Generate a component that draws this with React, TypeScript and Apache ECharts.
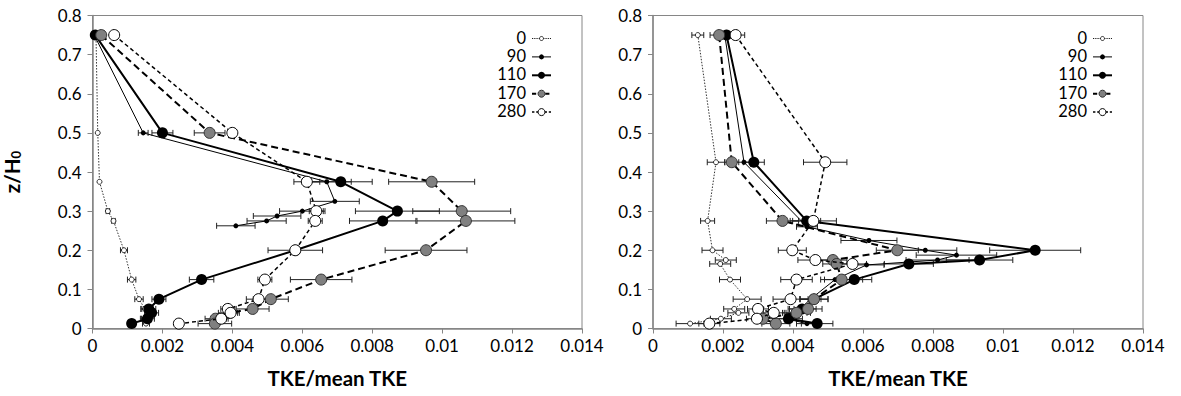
import React, { useEffect, useRef } from "react";
import * as echarts from "echarts";

const FONT = "Lato, 'Open Sans', sans-serif";

// ---------- data: left panel ----------
const LEFT_Z = [0.75, 0.5, 0.375, 0.3, 0.275, 0.2, 0.125, 0.075, 0.05, 0.04, 0.025, 0.0125];
const LEFT_0_X = [0.0001, 0.00015, 0.0002, 0.00044, 0.0006, 0.0009, 0.00112, 0.00133, 0.0015, 0.0016, 0.0015, 0.00153];
const LEFT_0_E = [0, 0, 0, 0.00005, 0.00005, 0.0001, 0.00012, 0.00012, 0.00012, 0.0001, 0.0001, 0.0001];
const LEFT_90_Z = [0.75, 0.5, 0.375, 0.325, 0.3, 0.2875, 0.275, 0.2625];
const LEFT_90_X = [0.00005, 0.00145, 0.0067, 0.00693, 0.006, 0.00528, 0.00498, 0.0041];
const LEFT_90_E = [0, 0.00014, 0.0007, 0.0007, 0.00065, 0.00068, 0.00056, 0.00055];
const LEFT_110_X = [0.00008, 0.002, 0.0071, 0.00872, 0.0083, 0.0058, 0.00312, 0.0019, 0.00161, 0.00169, 0.00157, 0.00112];
const LEFT_110_E = [0, 0.0003, 0.0009, 0.0012, 0.00095, 0, 0.00035, 0.0002, 0.0002, 0.0002, 0.0002, 0.0001];
const LEFT_170_X = [0.00025, 0.00335, 0.0097, 0.01056, 0.01068, 0.00954, 0.00654, 0.0051, 0.00458, 0.0039, 0.00352, 0.0035];
const LEFT_170_E = [0, 0.00044, 0.00123, 0.0014, 0.0014, 0.00117, 0.00088, 0.0005, 0.00047, 0.0003, 0.0003, 0.00048];
const LEFT_280_X = [0.00062, 0.004, 0.00613, 0.0064, 0.00637, 0.0058, 0.00493, 0.00475, 0.00387, 0.00395, 0.00368, 0.00247];
const LEFT_280_E = [0, 0, 0.00037, 0.0002, 0.0002, 0.00078, 0.0002, 0.00035, 0.0002, 0.0002, 0.0002, 0];

// ---------- data: right panel ----------
const RIGHT_Z = [0.75, 0.425, 0.275, 0.2, 0.175, 0.165, 0.125, 0.075, 0.05, 0.04, 0.025, 0.0125];
const RIGHT_0_X = [0.00128, 0.0018, 0.00156, 0.0017, 0.00208, 0.00192, 0.0022, 0.00269, 0.00232, 0.00244, 0.00194, 0.00106];
const RIGHT_0_E = [0.00017, 0.00025, 0.0002, 0.0003, 0.0003, 0.0003, 0.0003, 0.0004, 0.0003, 0.0003, 0.0003, 0.0004];
const RIGHT_90_Z = [0.75, 0.425, 0.26, 0.225, 0.2, 0.1875, 0.175, 0.1625, 0.125, 0.075, 0.05, 0.025, 0.0125];
const RIGHT_90_X = [0.00205, 0.0026, 0.0044, 0.00617, 0.00778, 0.00867, 0.00813, 0.0061, 0.0052, 0.0045, 0.0042, 0.0038, 0.0044];
const RIGHT_90_E = [0.0002, 0.0003, 0.0003, 0.0008, 0.0009, 0.00115, 0.0009, 0.0005, 0.0003, 0.0003, 0.0003, 0.0003, 0.0003];
const RIGHT_110_X = [0.0021, 0.00288, 0.00439, 0.01092, 0.00933, 0.00731, 0.00575, 0.0046, 0.00426, 0.0041, 0.00387, 0.00469];
const RIGHT_110_E = [0.0002, 0.0003, 0.0004, 0.0013, 0.00095, 0.0007, 0.0005, 0.0004, 0.0004, 0.0004, 0.0004, 0.00045];
const RIGHT_170_X = [0.00189, 0.00225, 0.0037, 0.00698, 0.00514, 0.00525, 0.00539, 0.0046, 0.00443, 0.0041, 0.00314, 0.00351];
const RIGHT_170_E = [0.00026, 0.0002, 0.00046, 0.0006, 0.0004, 0.0004, 0.0006, 0.0004, 0.0004, 0.0003, 0.0003, 0.0004];
const RIGHT_280_X = [0.00236, 0.00492, 0.00458, 0.00398, 0.00464, 0.0057, 0.0041, 0.00393, 0.003, 0.00345, 0.00297, 0.00161];
const RIGHT_280_E = [0.00026, 0.00062, 0.00066, 0.0004, 0.0005, 0.0004, 0.00045, 0.0005, 0.0003, 0.0003, 0.0003, 0.0003];

const LEGEND = ["0", "90", "110", "170", "280"];
const X_MIN = 0, X_MAX = 0.014, X_STEP = 0.002;
const Y_MIN = 0, Y_MAX = 0.8, Y_STEP = 0.1;
const X_TITLE = "TKE/mean TKE";

// ---------- styles ----------
const STYLES: any[] = [
  { size: 5, fill: "#fff", border: "#000", bw: 0.8, line: { color: "#333", width: 1, type: [1.5, 1.5] }, lsize: 4 },
  { size: 5, fill: "#000", border: "#000", bw: 0, line: { color: "#000", width: 1, type: "solid" }, lsize: 5 },
  { size: 11, fill: "#000", border: "#000", bw: 0, line: { color: "#000", width: 2, type: "solid" }, lsize: 7 },
  { size: 11, fill: "#808080", border: "#333", bw: 1, line: { color: "#000", width: 2, type: [7, 4] }, lsize: 7 },
  { size: 11, fill: "#fff", border: "#000", bw: 1, line: { color: "#000", width: 1.5, type: [4, 3] }, lsize: 7 },
];

const GRID_TOP = 15.5;
const GRID_H = 313;
const GRID_W = 490;
const GRID_LEFTS = [92, 653];

function errRender(params: any, api: any) {
  const x = api.value(0), y = api.value(1), e = api.value(2);
  if (!e) return null;
  const a = api.coord([x - e, y]);
  const b = api.coord([x + e, y]);
  const st = { stroke: "#222", lineWidth: 1 };
  return {
    type: "group",
    children: [
      { type: "line", shape: { x1: a[0], y1: a[1], x2: b[0], y2: b[1] }, style: st },
      { type: "line", shape: { x1: a[0], y1: a[1] - 3, x2: a[0], y2: a[1] + 3 }, style: st },
      { type: "line", shape: { x1: b[0], y1: b[1] - 3, x2: b[0], y2: b[1] + 3 }, style: st },
    ],
  };
}

export default function App() {
  const ref = useRef<HTMLDivElement>(null);
  useEffect(() => {
    document.body.style.margin = "0";
    const chart = echarts.init(ref.current!, undefined, { renderer: "svg" });

    const panels = [
      {
        zs: [LEFT_Z, LEFT_90_Z, LEFT_Z, LEFT_Z, LEFT_Z],
        xs: [LEFT_0_X, LEFT_90_X, LEFT_110_X, LEFT_170_X, LEFT_280_X],
        es: [LEFT_0_E, LEFT_90_E, LEFT_110_E, LEFT_170_E, LEFT_280_E],
      },
      {
        zs: [RIGHT_Z, RIGHT_90_Z, RIGHT_Z, RIGHT_Z, RIGHT_Z],
        xs: [RIGHT_0_X, RIGHT_90_X, RIGHT_110_X, RIGHT_170_X, RIGHT_280_X],
        es: [RIGHT_0_E, RIGHT_90_E, RIGHT_110_E, RIGHT_170_E, RIGHT_280_E],
      },
    ];

    const series: any[] = [];
    panels.forEach((p, pi) => {
      LEGEND.forEach((name, si) => {
        series.push({
          type: "custom",
          name: name + "_err_" + pi,
          xAxisIndex: pi,
          yAxisIndex: pi,
          z: 2,
          silent: true,
          encode: { x: 0, y: 1 },
          data: p.xs[si].map((x, i) => [x, p.zs[si][i], p.es[si][i]]),
          renderItem: errRender,
        });
      });
      LEGEND.forEach((name, si) => {
        const s = STYLES[si];
        series.push({
          type: "line",
          name: name + "_" + pi,
          xAxisIndex: pi,
          yAxisIndex: pi,
          z: 3 + si,
          symbol: "circle",
          symbolSize: s.size,
          showSymbol: true,
          itemStyle: { color: s.fill, borderColor: s.border, borderWidth: s.bw, opacity: 1 },
          lineStyle: { color: s.line.color, width: s.line.width, type: s.line.type },
          data: p.xs[si].map((x, i) => [x, p.zs[si][i]]),
        });
      });
    });

    // legends
    const graphic: any[] = [];
    GRID_LEFTS.forEach((gl) => {
      const textRight = gl + GRID_W - 56;
      LEGEND.forEach((lab, i) => {
        const y = 37.5 + i * 18.4;
        const s = STYLES[i];
        graphic.push({
          type: "text",
          x: textRight,
          y: y,
          style: { text: lab, font: `16.5px ${FONT}`, fill: "#000", align: "right", verticalAlign: "middle" },
        });
        const x1 = textRight + 6, x2 = textRight + 25;
        graphic.push({
          type: "line",
          shape: { x1, y1: y + 1, x2, y2: y + 1 },
          style: { stroke: "#000", lineWidth: s.line.width, lineDash: Array.isArray(s.line.type) ? s.line.type.map((d: number) => d * 0.6) : null },
        });
        graphic.push({
          type: "circle",
          shape: { cx: (x1 + x2) / 2, cy: y + 1, r: s.lsize / 2 },
          style: { fill: s.fill, stroke: s.border, lineWidth: s.bw || 0 },
        });
      });
    });

    const axisColor = "#868686";
    const option: any = {
      animation: false,
      textStyle: { fontFamily: FONT },
      grid: GRID_LEFTS.map((l) => ({
        left: l,
        top: GRID_TOP,
        width: GRID_W,
        height: GRID_H,
        show: true,
        borderColor: axisColor,
        borderWidth: 1,
        containLabel: false,
      })),
      xAxis: GRID_LEFTS.map((_, i) => ({
        type: "value",
        gridIndex: i,
        min: X_MIN,
        max: X_MAX,
        interval: X_STEP,
        name: X_TITLE,
        nameLocation: "middle",
        nameGap: 39,
        nameTextStyle: { fontSize: 20.5, fontWeight: "bold", color: "#000", fontFamily: FONT },
        axisLine: { show: true, lineStyle: { color: axisColor, width: 1.5 } },
        axisTick: { show: true, length: 5, lineStyle: { color: axisColor } },
        splitLine: { show: false },
        axisLabel: {
          fontSize: 17,
          color: "#000",
          margin: 8,
          fontFamily: FONT,
          formatter: (v: number) => String(parseFloat(v.toFixed(4))),
        },
      })),
      yAxis: GRID_LEFTS.map((_, i) => ({
        type: "value",
        gridIndex: i,
        min: Y_MIN,
        max: Y_MAX,
        interval: Y_STEP,
        name: i === 0 ? "{a|z/H}{s|0}" : "",
        nameLocation: "middle",
        nameGap: 70,
        nameRotate: 90,
        nameTextStyle: {
          color: "#000",
          fontFamily: FONT,
          rich: {
            a: { fontSize: 20.5, fontWeight: "bold", fontFamily: FONT, color: "#000" },
            s: { fontSize: 13, fontWeight: "bold", fontFamily: FONT, color: "#000", padding: [9, 0, 0, 0] },
          },
        },
        axisLine: { show: true, lineStyle: { color: axisColor, width: 1.5 } },
        axisTick: { show: true, length: 5, lineStyle: { color: axisColor } },
        splitLine: { show: false },
        axisLabel: {
          fontSize: 17,
          color: "#000",
          margin: 11,
          fontFamily: FONT,
          formatter: (v: number) => String(parseFloat(v.toFixed(2))),
        },
      })),
      series,
      graphic,
    };
    chart.setOption(option);
    return () => chart.dispose();
  }, []);
  return <div ref={ref} style={{ width: 1181, height: 396 }} />;
}
